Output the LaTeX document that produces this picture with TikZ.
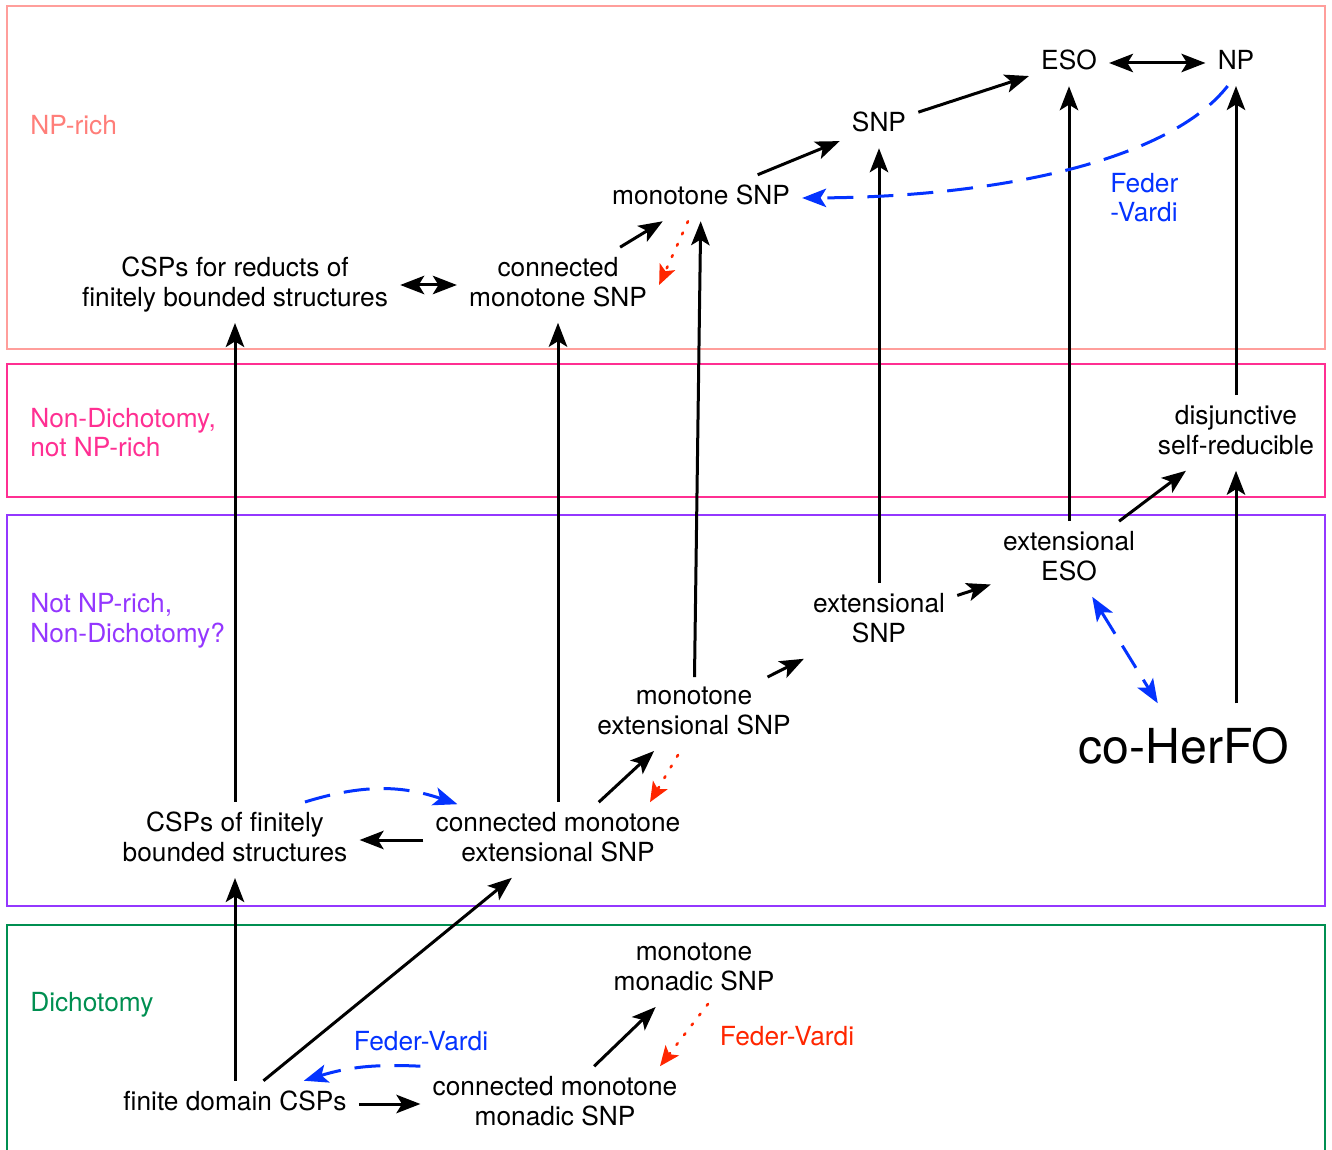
\documentclass[tikz,border=0pt]{standalone}
\usepackage{fontspec}
\setmainfont{TeX Gyre Heros}
\usetikzlibrary{arrows.meta,calc}
\definecolor{salmon}{HTML}{FF7E79}
\definecolor{strawberry}{HTML}{FF2F92}
\definecolor{grape}{HTML}{9437FF}
\definecolor{clover}{HTML}{008F51}
\definecolor{fvblue}{HTML}{0433FF}
\definecolor{fvred}{HTML}{FF2600}
\newcommand\clstrut{\rule[-0.24em]{0pt}{0.84em}}
\tikzset{
  cls/.style={align=center, inner xsep=3mm, inner ysep=2.5mm,
    font=\fontsize{18.7}{21}\selectfont,
    execute at begin node=\clstrut, execute at end node=\clstrut},
  reg/.style={anchor=west, align=left, inner sep=0pt,
    font=\fontsize{18.7}{21}\selectfont},
  big/.style={inner sep=6mm, font=\fontsize{34.3}{40}\selectfont},
  frame/.style={line width=0.4mm},
  >={Stealth[length=6mm,width=4.6mm,inset=1.4mm]},
  arr/.style={->, line width=0.75mm},
  darr/.style={<->, line width=0.75mm},
  fv/.style={->, fvblue, line width=0.75mm, dash pattern=on 6.5mm off 3.5mm},
  fvr/.style={-{Stealth[length=5mm,width=4.2mm,inset=1.2mm]}, fvred,
    line width=0.65mm, line cap=round, dash pattern=on 0.5mm off 2.6mm}
}
\begin{document}
\begin{tikzpicture}[x=0.25mm, y=-0.25mm]
            \useasboundingbox (0,0) rectangle (1332,1150);
            % regions
            \foreach \ya/\yb/\col in {6/349/salmon!75, 364/497/strawberry, 515/906/grape}
            \draw[frame,\col] (7,\ya) rectangle (1325,\yb);
            \draw[frame,clover] (7,1152) -- (7,925) -- (1325,925) -- (1325,1152);
            \node[reg,salmon] (lnprich) at (30,125) {NP-rich};
            \node[reg,strawberry] (lnondich) at (30,432.5) {Non-Dichotomy,\\not NP-rich};
            \node[reg,grape] (lnotnp) at (30,621) {Not NP-rich,\\Non-Dichotomy?};
            \node[reg,clover] (ldich) at (30,1005) {Dichotomy};
            % classes
            \node[cls] (eso) at (1069,63) {ESO};
            \node[cls] (np) at (1236,63) {NP};
            \node[cls] (snp) at (879,125) {SNP};
            \node[cls] (msnp) at (701,198) {monotone SNP};
            \node[cls] (creds) at (235,285) {CSPs for reducts of\\finitely bounded structures};
            \node[cls] (cmsnp) at (558,285) {connected\\monotone SNP};
            \node[cls] (dsr) at (1236,433) {disjunctive\\self-reducible};
            \node[cls] (eeso) at (1069,559) {extensional\\ESO};
            \node[cls] (esnp) at (879,621) {extensional\\SNP};
            \node[cls] (mesnp) at (694,714) {monotone\\extensional SNP};
            \node[big] (cohf) at (1184,746) {co-HerFO};
            \node[cls] (cfbs) at (235,840) {CSPs of finitely\\bounded structures};
            \node[cls] (cmesnp) at (558,840) {connected monotone\\extensional SNP};
            \node[cls] (mmsnp) at (694,970) {monotone\\monadic SNP};
            \node[cls] (fdcsp) at (235,1104) {finite domain CSPs};
            \node[cls] (cmmsnp) at (555,1104) {connected monotone\\monadic SNP};
            \node[cls,fvblue] (fvbot) at (421,1044) {Feder-Vardi};
            \node[cls,fvred] (fvr) at (787,1039) {Feder-Vardi};
            \node[reg,fvblue] (fvtop) at (1110,197.5) {Feder\\-Vardi};
            % inclusions
            \draw[darr] (eso) -- (np);
            \draw[arr] (snp) -- (eso);
            \draw[arr] (msnp) -- (snp);
            \draw[arr] (cmsnp) -- (msnp);
            \draw[darr] (creds) -- (cmsnp);
            \draw[arr] (mesnp) -- (msnp);
            \draw[arr] (esnp) -- (snp);
            \draw[arr] (eeso) -- (eso);
            \draw[arr] (dsr) -- (np);
            \draw[arr] (eeso) -- (dsr);
            \draw[arr] (cohf.north -| dsr) -- (dsr);
            \draw[arr] (esnp) -- (eeso);
            \draw[arr] (mesnp) -- (esnp);
            \draw[arr] (cmesnp) -- (mesnp);
            \draw[arr] (cfbs) -- (creds);
            \draw[arr] (cmesnp) -- (cmsnp);
            \draw[arr] (cmesnp) -- (cfbs);
            \draw[arr] (fdcsp) -- (cfbs);
            \draw[arr] (fdcsp) -- (cmesnp);
            \draw[arr] (fdcsp) -- (cmmsnp);
            \draw[arr] (cmmsnp) -- (mmsnp);
            % Feder-Vardi
            \draw[fv] (np.250) .. controls (1170,160) and (1000,197) .. (msnp.east);
            \draw[fv,<->] (eeso) -- (cohf);
            \draw[fv] ($(cfbs.north)+(70,0)$) to[bend left=18] ($(cmesnp.north west)+(34,2)$);
            \draw[fv] (cmmsnp.north west) to[bend right=10] ($(fdcsp.north east)+(-55,0)$);
            \draw[fvr] ($(msnp.south)+(-13,0)$) -- (cmsnp.east);
            \draw[fvr] ($(mesnp.south)+(-16,4)$) -- ($(cmesnp.north)+(92,0)$);
            \draw[fvr] ($(mmsnp.south)+(14,-3)$) -- ($(cmmsnp.north)+(105,0)$);
        \end{tikzpicture}
\end{document}
